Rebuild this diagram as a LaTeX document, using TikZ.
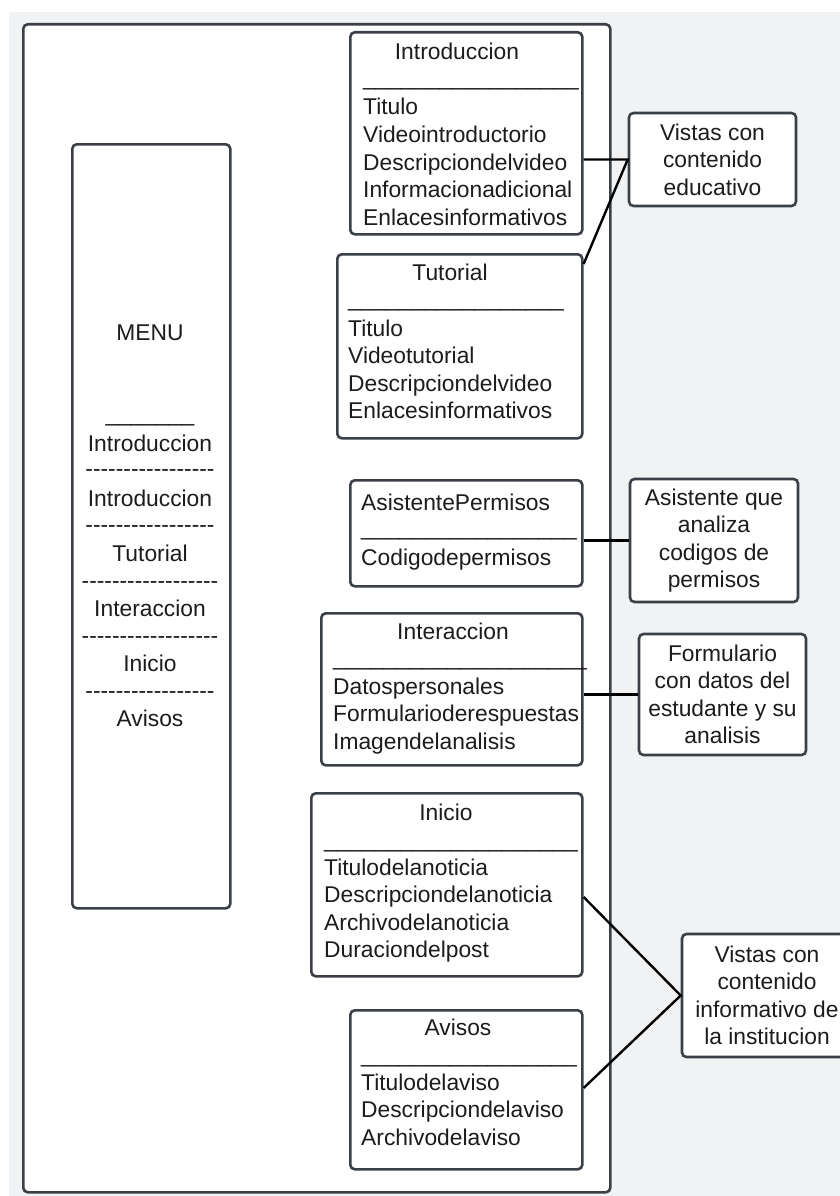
\documentclass[tikz,border=0pt]{standalone}
\usepackage{fontspec}
\setmainfont{Liberation Sans}
\usetikzlibrary{calc}
\definecolor{canvas}{HTML}{F1F2F4}
\definecolor{edge}{HTML}{3B4046}
\definecolor{ink}{HTML}{1C1C1C}
% repeat a glyph #1 times, each in its own box (keeps "--" from turning into dashes)
\newcommand\repglyph[2]{\ifnum#1>0 \hbox{#2}\expandafter\repglyph\expandafter{\the\numexpr#1-1\relax}{#2}\fi}

\begin{document}
\begin{tikzpicture}[x=1pt,y=-1pt,
  font=\fontsize{22.8}{27.5}\selectfont,
  box/.style={draw=edge, line width=2.6pt, rounded corners=4.5pt, fill=white, inner sep=0pt, anchor=north west},
  note/.style={draw=edge, line width=2.6pt, rounded corners=4.5pt, fill=white, inner sep=0pt, align=center, text=ink},
  txt/.style={inner sep=0pt, text height=16pt, text depth=0pt, text=ink},
  item/.style={txt, anchor=west},
  conn/.style={draw=black, line width=2.4pt}]

\useasboundingbox (0,0) rectangle (840,1196);
\clip (0,0) rectangle (840,1196);
\fill[white] (0,0) rectangle (840,1196);
\fill[canvas] (9,12) rectangle (840,1196);

% outer frame
\node[box, minimum width=587pt, minimum height=1168pt] (frame) at (22,23) {};

% menu column
\node[box, minimum width=158pt, minimum height=764pt] (menu) at (71,143) {};
\node[txt] (menu-title) at (150,332) {MENU};
\node[txt] (menu-rule) at (150,413) {\repglyph{7}{\_}};
\node[txt] (menu-1) at (150,443) {Introduccion};
\node[txt] (menu-d1) at (150,468) {\repglyph{17}{-}};
\node[txt] (menu-2) at (150,498) {Introduccion};
\node[txt] (menu-d2) at (150,524) {\repglyph{17}{-}};
\node[txt] (menu-3) at (150,553) {Tutorial};
\node[txt] (menu-d3) at (150,580) {\repglyph{18}{-}};
\node[txt] (menu-4) at (150,608) {Interaccion};
\node[txt] (menu-d4) at (150,635) {\repglyph{18}{-}};
\node[txt] (menu-5) at (150,663) {Inicio};
\node[txt] (menu-d5) at (150,690) {\repglyph{17}{-}};
\node[txt] (menu-6) at (150,718) {Avisos};

% Introduccion
\node[box, minimum width=232pt, minimum height=202pt] (intro) at (349,31) {};
\node[txt] (intro-title) at (457,52) {Introduccion};
\node[item] (intro-rule) at (363,78) {\repglyph{17}{\_}};
\foreach \t [count=\i] in {Titulo,Videointroductorio,Descripciondelvideo,Informacionadicional,Enlacesinformativos}
  \node[item] (intro-\i) at (363,{107+27.5*(\i-1)}) {\t};

% Tutorial
\node[box, minimum width=245pt, minimum height=184pt] (tut) at (336,253) {};
\node[txt] (tut-title) at (450,272) {Tutorial};
\node[item] (tut-rule) at (348,298) {\repglyph{17}{\_}};
\foreach \t [count=\i] in {Titulo,Videotutorial,Descripciondelvideo,Enlacesinformativos}
  \node[item] (tut-\i) at (348,{328+27.5*(\i-1)}) {\t};

% AsistentePermisos
\node[box, minimum width=232pt, minimum height=106pt] (asis) at (349,479) {};
\node[item] (asis-title) at (361,502) {AsistentePermisos};
\node[item] (asis-rule) at (361,527) {\repglyph{17}{\_}};
\node[item] (asis-1) at (361,557) {Codigodepermisos};

% Interaccion
\node[box, minimum width=261pt, minimum height=152pt] (inter) at (320,612) {};
\node[txt] (inter-title) at (453,631) {Interaccion};
\node[item] (inter-rule) at (333,657) {\repglyph{20}{\_}};
\foreach \t [count=\i] in {Datospersonales,Formularioderespuestas,Imagendelanalisis}
  \node[item] (inter-\i) at (333,{686+27.5*(\i-1)}) {\t};

% Inicio
\node[box, minimum width=271pt, minimum height=183pt] (inicio) at (310,792) {};
\node[txt] (inicio-title) at (446,812) {Inicio};
\node[item] (inicio-rule) at (324,839) {\repglyph{20}{\_}};
\foreach \t [count=\i] in {Titulodelanoticia,Descripciondelanoticia,Archivodelanoticia,Duraciondelpost}
  \node[item] (inicio-\i) at (324,{867+27.5*(\i-1)}) {\t};

% Avisos
\node[box, minimum width=232pt, minimum height=159pt] (avisos) at (349,1009) {};
\node[txt] (avisos-title) at (458,1027) {Avisos};
\node[item] (avisos-rule) at (361,1054) {\repglyph{17}{\_}};
\foreach \t [count=\i] in {Titulodelaviso,Descripciondelaviso,Archivodelaviso}
  \node[item] (avisos-\i) at (361,{1082+27.5*(\i-1)}) {\t};

% notes on the right
\node[note, minimum width=167pt, minimum height=93pt] (vedu) at (712.5,159.5) {Vistas con\\contenido\\educativo};
\node[note, minimum width=168pt, minimum height=123pt] (asr) at (714,540.5) {Asistente que\\analiza\\codigos de\\permisos};
\node[note, minimum width=167pt, minimum height=121pt] (form) at (722.5,694.5) {Formulario\\con datos del\\estudante y su\\analisis};
\node[note, minimum width=170pt, minimum height=123pt] (inst) at (767,995.5) {Vistas con\\contenido\\informativo de\\la institucion};

% connectors
\draw[conn] (vedu.west -| intro.east) -- (vedu.west) -- ($(tut.north east)+(0,11)$);
\draw[conn] (asr.west -| asis.east) -- (asr.west);
\draw[conn] (form.west -| inter.east) -- (form.west);
\draw[conn] ($(inicio.north east)+(0,105)$) -- (inst.west) -- ($(avisos.north east)+(0,79)$);
\end{tikzpicture}
\end{document}
